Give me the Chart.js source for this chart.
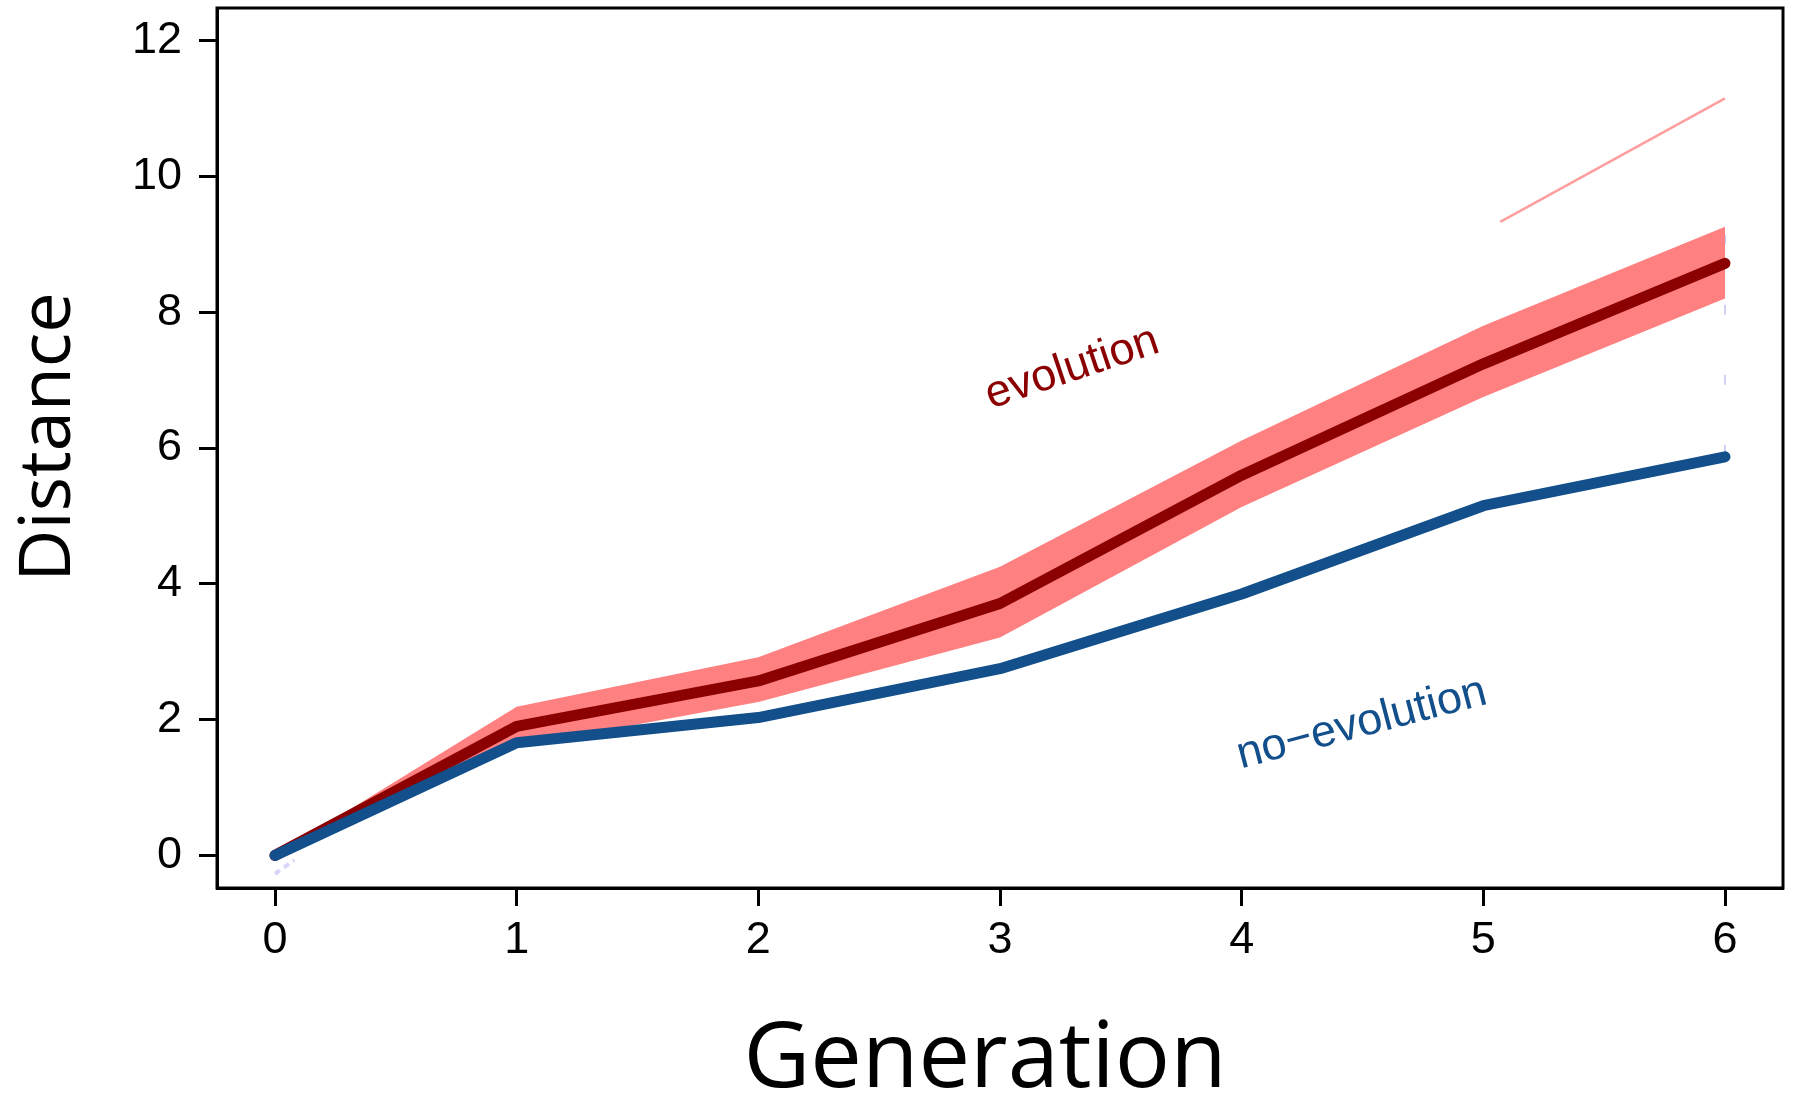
<!DOCTYPE html>
<html>
<head>
<meta charset="utf-8">
<script src="https://cdn.jsdelivr.net/npm/chart.js@4.4.1/dist/chart.umd.min.js"></script>
<style>
  html, body { margin: 0; padding: 0; background: #ffffff; overflow: hidden; }
  canvas { display: block; }
</style>
</head>
<body>
<canvas id="chart" width="1798" height="1105"></canvas>
<script>
// Mean distance per generation
const generations    = [0, 1, 2, 3, 4, 5, 6];
const evolution      = [0, 1.90, 2.57, 3.71, 5.60, 7.24, 8.72];
const evolutionUpper = [0, 2.19, 2.92, 4.25, 6.11, 7.80, 9.26];
const evolutionLower = [0, 1.60, 2.26, 3.21, 5.13, 6.75, 8.20];
const noEvolution    = [0, 1.66, 2.03, 2.75, 3.85, 5.15, 5.87];

// Thin upper trace near the last generations
const traceX = [5.07, 6];
const traceY = [9.33, 11.15];

// Faint dashed spread marks
const spreadX = [6, 6];
const spreadY = [5.90, 9.30];
const originX = [0, 0.08];
const originY = [-0.27, -0.07];

// Axis ticks
const xTicks = [0, 1, 2, 3, 4, 5, 6];
const yTicks = [0, 2, 4, 6, 8, 10, 12];

const RED = '#8B0000';
const BLUE = '#124F8B';
const BAND = '#FF8080';

const pts = (xs, ys) => xs.map((x, i) => ({ x: x, y: ys[i] }));

const TICK_FONT = { family: '"Liberation Sans", Arial, Helvetica, sans-serif', size: 45 };

// Box, axis titles and in-plot labels
const decorations = {
  id: 'decorations',
  afterDraw(chart) {
    const ctx = chart.ctx;
    const a = chart.chartArea;
    const xs = chart.scales.x, ys = chart.scales.y;
    ctx.save();
    ctx.strokeStyle = '#000';
    ctx.lineWidth = 3;
    ctx.strokeRect(a.left, a.top, a.right - a.left, a.bottom - a.top);

    const label = (text, gx, gy, deg, color) => {
      ctx.save();
      ctx.translate(xs.getPixelForValue(gx), ys.getPixelForValue(gy));
      ctx.rotate(-deg * Math.PI / 180);
      ctx.fillStyle = color;
      ctx.font = '45px "Liberation Sans", Arial, Helvetica, sans-serif';
      ctx.textAlign = 'center';
      ctx.textBaseline = 'alphabetic';
      ctx.fillText(text, 0, 0);
      ctx.restore();
    };
    label('evolution', 3.315, 7.0, 18.5, RED);
    label('no\u2212evolution', 4.51, 1.76, 14.7, BLUE);

    ctx.fillStyle = '#000';
    ctx.font = '92px "Open Sans", "Noto Sans", sans-serif';
    ctx.textAlign = 'center';
    ctx.textBaseline = 'alphabetic';
    ctx.fillText('Generation', 985, 1087);

    ctx.save();
    ctx.translate(70, 437);
    ctx.rotate(-Math.PI / 2);
    ctx.font = '72px "Open Sans", "Noto Sans", sans-serif';
    ctx.fillText('Distance', 0, 0);
    ctx.restore();
    ctx.restore();
  }
};

new Chart(document.getElementById('chart'), {
  type: 'line',
  data: {
    datasets: [
      {
        label: 'no-evolution',
        data: pts(generations, noEvolution),
        borderColor: BLUE, borderWidth: 11,
        borderCapStyle: 'round', borderJoinStyle: 'round',
        pointRadius: 0, fill: false, order: 0
      },
      {
        label: 'evolution',
        data: pts(generations, evolution),
        borderColor: RED, borderWidth: 11,
        borderCapStyle: 'round', borderJoinStyle: 'round',
        pointRadius: 0, fill: false, order: 1
      },
      {
        label: 'upper trace',
        data: pts(traceX, traceY),
        borderColor: '#FF9E9E', borderWidth: 2.5,
        pointRadius: 0, fill: false, order: 2
      },
      {
        label: 'evolution upper',
        data: pts(generations, evolutionUpper),
        borderWidth: 0, borderColor: 'rgba(0,0,0,0)',
        backgroundColor: BAND,
        pointRadius: 0, fill: { target: 4 }, order: 3
      },
      {
        label: 'evolution lower',
        data: pts(generations, evolutionLower),
        borderWidth: 0, borderColor: 'rgba(0,0,0,0)',
        pointRadius: 0, fill: false, order: 4
      },
      {
        label: 'spread',
        data: pts(spreadX, spreadY),
        borderColor: 'rgba(150,150,240,0.45)', borderWidth: 2,
        borderDash: [10, 60],
        pointRadius: 0, fill: false, order: 5
      },
      {
        label: 'origin',
        data: pts(originX, originY),
        borderColor: 'rgba(150,150,240,0.4)', borderWidth: 4,
        borderDash: [6, 5],
        pointRadius: 0, fill: false, order: 6
      }
    ]
  },
  options: {
    responsive: false,
    animation: false,
    devicePixelRatio: 1,
    layout: { padding: { left: 0, top: 8, right: 15, bottom: 0 } },
    plugins: {
      legend: { display: false },
      tooltip: { enabled: false }
    },
    scales: {
      x: {
        type: 'linear', position: 'bottom',
        min: -0.24, max: 6.24,
        afterBuildTicks: s => { s.ticks = xTicks.map(v => ({ value: v })); },
        afterFit: s => { s.height = 217; s.paddingLeft = 0; s.paddingRight = 0; },
        grid: { drawOnChartArea: false, drawTicks: true, tickLength: 18, tickWidth: 3, tickColor: '#000' },
        border: { display: true, color: '#000', width: 3 },
        ticks: { font: TICK_FONT, color: '#000', padding: 8, maxRotation: 0, autoSkip: false,
                 callback: v => String(v) }
      },
      y: {
        type: 'linear', position: 'left',
        min: -0.48, max: 12.48,
        afterBuildTicks: s => { s.ticks = yTicks.map(v => ({ value: v })); },
        afterFit: s => { s.width = 217; s.paddingTop = 0; s.paddingBottom = 0; },
        grid: { drawOnChartArea: false, drawTicks: true, tickLength: 18, tickWidth: 3, tickColor: '#000' },
        border: { display: true, color: '#000', width: 3 },
        ticks: { font: TICK_FONT, color: '#000', padding: 17, autoSkip: false,
                 callback: v => String(v) }
      }
    }
  },
  plugins: [decorations]
});
</script>
</body>
</html>
